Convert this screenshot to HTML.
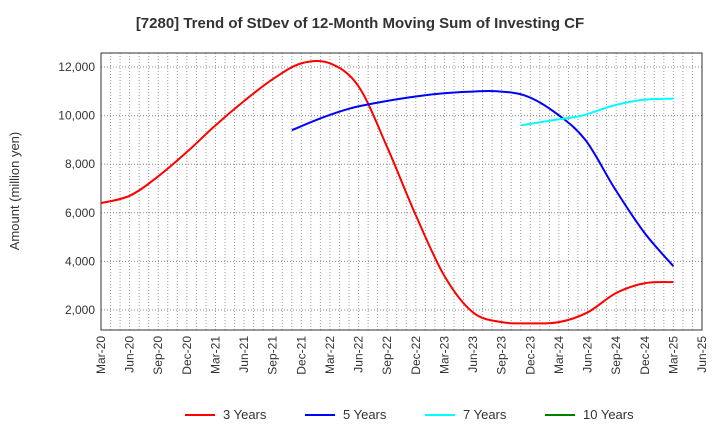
<!DOCTYPE html>
<html><head><meta charset="utf-8"><style>
body{margin:0;background:#fff;font-family:"Liberation Sans",sans-serif;}
</style></head><body>
<svg width="720" height="440" xmlns="http://www.w3.org/2000/svg">
<text x="360" y="28" text-anchor="middle" font-size="15" font-weight="bold" fill="#333">[7280]  Trend of StDev of 12-Month Moving Sum of Investing CF</text>
<g id="grid"></g>
<rect x="101" y="53" width="601" height="277" fill="none" stroke="#333"/>
<g id="yt"></g>
<g id="xt"></g>
<text transform="translate(19,191) rotate(-90)" text-anchor="middle" font-size="13" fill="#333">Amount (million yen)</text>
<g id="series"></g>
<g id="legend"></g>
</svg>
<script>
const xLabels=["Mar-20","Jun-20","Sep-20","Dec-20","Mar-21","Jun-21","Sep-21","Dec-21","Mar-22","Jun-22","Sep-22","Dec-22","Mar-23","Jun-23","Sep-23","Dec-23","Mar-24","Jun-24","Sep-24","Dec-24","Mar-25","Jun-25"];
const yTicks=[2000,4000,6000,8000,10000,12000];
const s3=[6400,6700,7500,8500,9600,10600,11500,12150,12150,11200,8700,5900,3400,1900,1500,1450,1500,1900,2700,3100,3150];
const s5=[9400,9900,10300,10550,10750,10900,10980,11000,10800,10100,9000,7000,5200,3800];
const s7=[9600,9800,10000,10400,10650,10700];
const s10=[];
const names=["3 Years","5 Years","7 Years","10 Years"];
const colors=["#ff0000","#0000ff","#00ffff","#008000"];
const starts=[0,6.67,14.67,0];
const NS="http://www.w3.org/2000/svg";
const L=101,R=702,T=53,B=330;
const X=q=>L+q*(R-L)/21;
const Y=v=>310-(v-2000)*48.6/2000;
function mk(t,a,p){const e=document.createElementNS(NS,t);for(const k in a)e.setAttribute(k,a[k]);p.appendChild(e);return e;}
const grid=document.getElementById('grid');
for(let m=1;m<63;m++){const x=L+m*(R-L)/63;const l=mk('line',{x1:x,x2:x,y1:T,y2:B,stroke:'#999','stroke-dasharray':'1,2','stroke-width':1},grid);}
const yt=document.getElementById('yt');
yTicks.forEach(v=>{const y=Y(v);const l=mk('line',{x1:L,x2:R,y1:y,y2:y,stroke:'#888','stroke-dasharray':'1,2'},grid);
const t=mk('text',{x:L-6,y:y+4,'text-anchor':'end','font-size':12,fill:'#333'},yt);t.textContent=v.toLocaleString('en-US');});
const xt=document.getElementById('xt');
xLabels.forEach((s,i)=>{const x=X(i);const t=mk('text',{transform:`translate(${x+4},336) rotate(-90)`,'text-anchor':'end','font-size':12,fill:'#333'},xt);t.textContent=s;});
function path(pts){if(pts.length<2)return '';let d=`M${pts[0][0]},${pts[0][1]}`;for(let i=0;i<pts.length-1;i++){const p0=pts[i-1]||pts[i],p1=pts[i],p2=pts[i+1],p3=pts[i+2]||p2;d+=` C${p1[0]+(p2[0]-p0[0])/6},${p1[1]+(p2[1]-p0[1])/6} ${p2[0]-(p3[0]-p1[0])/6},${p2[1]-(p3[1]-p1[1])/6} ${p2[0]},${p2[1]}`;}return d;}
const sg=document.getElementById('series');
[s3,s5,s7,s10].forEach((s,k)=>{const pts=s.map((v,i)=>[X(starts[k]+i*(k==0?1:(20-starts[k])/(s.length-1))),Y(v)]);if(pts.length<2)return;const p=mk('path',{d:path(pts),fill:'none',stroke:colors[k],'stroke-width':2},sg);});
const lg=document.getElementById('legend');
const lx=[185,305,425,545];
names.forEach((n,k)=>{const g=mk('g',{},lg);
mk('line',{x1:lx[k],x2:lx[k]+30,y1:415,y2:415,stroke:colors[k],'stroke-width':2},g);
const t=mk('text',{x:lx[k]+38,y:419,'font-size':13,fill:'#333'},g);t.textContent=n;});
</script>
</body></html>
